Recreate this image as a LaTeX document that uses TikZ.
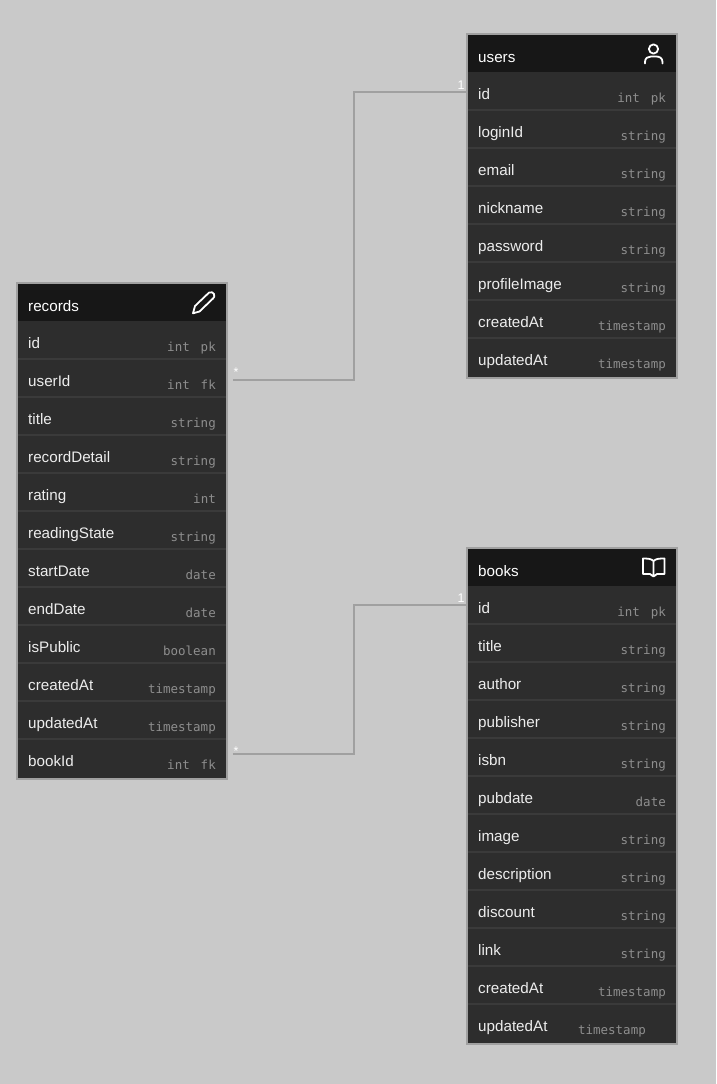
\documentclass[tikz,border=0pt]{standalone}
\usepackage{fontspec}
\setmainfont{Liberation Sans}
\setmonofont{DejaVu Sans Mono}
\definecolor{bg}{HTML}{C9C9C9}
\definecolor{headfill}{HTML}{171717}
\definecolor{rowfill}{HTML}{2D2D2D}
\definecolor{rowline}{HTML}{3A3A3A}
\definecolor{edge}{HTML}{A0A0A0}
\definecolor{typegrey}{HTML}{8E8E8E}
\definecolor{labelwhite}{HTML}{EDEDED}
\tikzset{
  tablebox/.style={fill=rowfill,inner sep=0pt,minimum width=209.5pt,anchor=north west},
  tableedge/.style={draw=edge,line width=1.6pt},
  headbox/.style={fill=headfill,inner sep=0pt,minimum width=209.5pt,minimum height=37.5pt,anchor=north west},
  rowbox/.style={inner sep=0pt,minimum width=209.5pt,minimum height=38pt,anchor=north west},
  titletext/.style={text=white,inner sep=0pt,anchor=base west,font=\fontsize{15.2}{18}\selectfont},
  labeltext/.style={text=labelwhite,inner sep=0pt,anchor=base west,font=\fontsize{15.2}{18}\selectfont},
  typetext/.style={text=typegrey,inner sep=0pt,anchor=base east,font=\ttfamily\fontsize{12.5}{15}\selectfont},
  relation/.style={draw=edge,line width=1.8pt},
  cardtext/.style={text=white,inner sep=0pt,font=\fontsize{12.5}{14}\selectfont},
  iconline/.style={draw=white,line width=1.8pt,line cap=round,line join=round},
}
% #1 name, #2 left x, #3 top y, #4 total height, #5 rows
\newcommand{\ertable}[5]{%
  \node[tablebox,minimum height=#4pt] (#1) at (#2,#3) {};
  \node[headbox] (#1-head) at (#2,#3) {};
  \node[titletext] (#1-title) at (#2+11,#3+28) {#1};
  \foreach \lab/\typ [count=\i from 0] in {#5}{
    \node[rowbox] (#1-\lab) at (#2,#3+38+38*\i) {};
    \ifnum\i>0
      \draw[rowline,line width=1.6pt] (#1-\lab.north west) -- (#1-\lab.north east);
    \fi
    \node[labeltext] (#1-\lab-name) at (#2+11,#3+38+38*\i+27) {\lab};
    \node[typetext] (#1-\lab-type) at (#2+199,#3+38+38*\i+30) {\typ};
  }
}
\newcommand{\intpk}{int\hspace{3.4pt} pk}
\newcommand{\intfk}{int\hspace{3.4pt} fk}
\begin{document}
\begin{tikzpicture}[x=1pt,y=-1pt]
\useasboundingbox[fill=bg] (0,0) rectangle (716,1084);

\ertable{users}{467}{34}{343.5}{id/\intpk,loginId/string,email/string,nickname/string,password/string,profileImage/string,createdAt/timestamp,updatedAt/timestamp}
\ertable{records}{17}{283}{495.5}{id/\intpk,userId/\intfk,title/string,recordDetail/string,rating/int,readingState/string,startDate/date,endDate/date,isPublic/boolean,createdAt/timestamp,updatedAt/timestamp,bookId/\intfk}
\ertable{books}{467}{548}{495.5}{id/\intpk,title/string,author/string,publisher/string,isbn/string,pubdate/date,image/string,description/string,discount/string,link/string,createdAt/timestamp}
% last books row: its type stands further left in the reference
\node[rowbox] (books-updatedAt) at (467,1004) {};
\draw[rowline,line width=1.6pt] (books-updatedAt.north west) -- (books-updatedAt.north east);
\node[labeltext] (books-updatedAt-name) at (478,1031) {updatedAt};
\node[typetext] (books-updatedAt-type) at (646,1034) {timestamp};

% table outlines, on top of the rows
\draw[tableedge] (users.north west) rectangle (users.south east);
\draw[tableedge] (records.north west) rectangle (records.south east);
\draw[tableedge] (books.north west) rectangle (books.south east);

% connectors
\draw[relation,shorten <=6pt] ([yshift=-2pt]records-userId.east) -- ++(127.25,0) |- ([yshift=-1pt]users-id.west);
\draw[relation,shorten <=6pt] ([yshift=4pt]records-bookId.east) -- ++(127.25,0) |- ([yshift=0.5pt]books-id.west);
\node[cardtext] (card-users) at (461,85) {1};
\node[cardtext] (card-records-u) at (236,372.5) {*};
\node[cardtext] (card-books) at (461,598) {1};
\node[cardtext] (card-records-b) at (236,751.5) {*};

% user icon
\draw[iconline] (653.5,49) circle (4.6);
\draw[iconline] (645,63.5) -- (645,62) .. controls (645,58) and (648,56.5) .. (651,56.5) -- (656,56.5) .. controls (659.5,56.5) and (662.5,58) .. (662.5,62) -- (662.5,63.5);
% pencil icon
\draw[iconline] (193,313.3) -- (195,306) -- (209,292.6) .. controls (211,291) and (213.5,293) .. (214,294) .. controls (215,296) and (214,297.5) .. (213,298.5) -- (199.5,311.5) -- cycle;
% book icon
\draw[iconline] (653.5,561) .. controls (651,558.5) and (647,558.5) .. (643,558.5) -- (643,574) -- (650,574) -- (653.5,576.5) -- (657,574) -- (664.5,574) -- (664.5,558.5) .. controls (660,558.5) and (656,558.5) .. (653.5,561) -- (653.5,575);
\end{tikzpicture}
\end{document}
